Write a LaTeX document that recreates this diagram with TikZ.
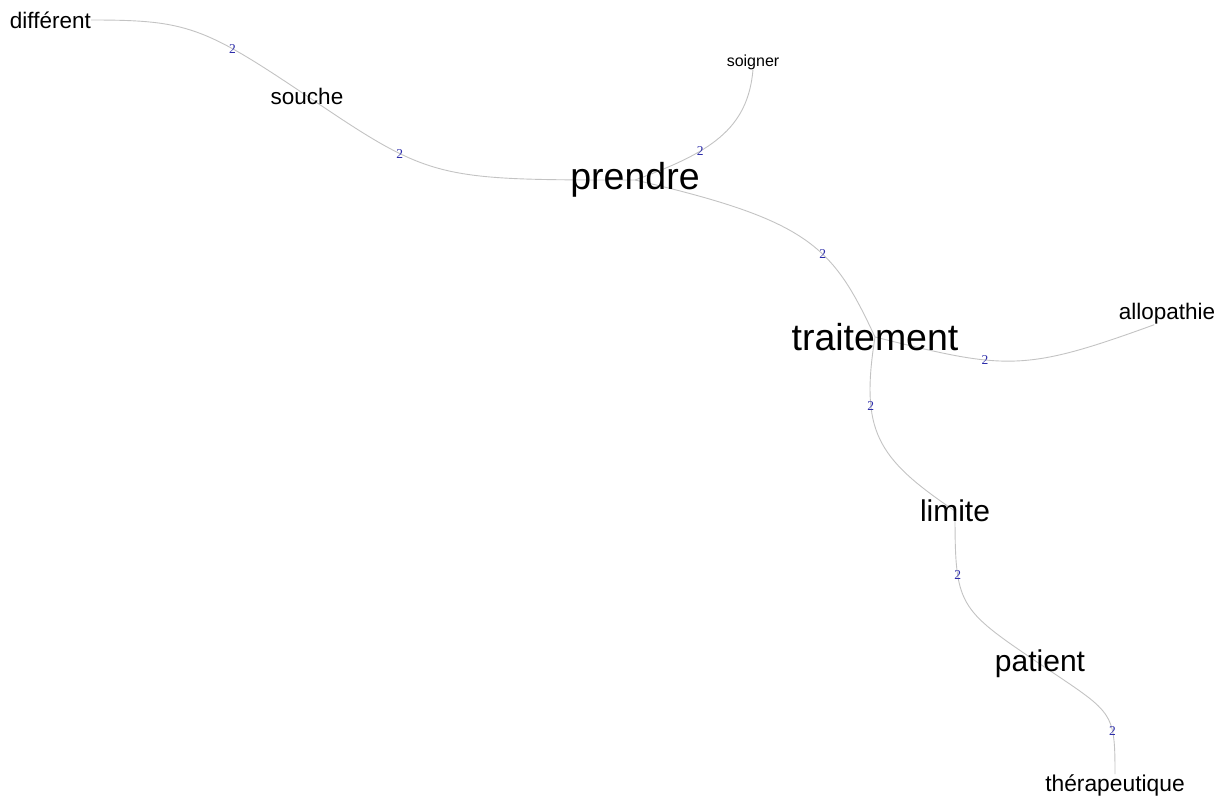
\documentclass[tikz,border=0pt]{standalone}
\usepackage{fontspec}
\setmainfont{Liberation Sans}
\newfontfamily\weightfont{Liberation Serif}
\usepackage{tikz}
\usetikzlibrary{positioning}
\usetikzlibrary{backgrounds}

\definecolor{linkgray}{RGB}{195,195,195}
\definecolor{weightblue}{RGB}{45,45,170}

\tikzset{
  word/.style={inner sep=0pt, text=black},
  bigword/.style={word, font=\fontsize{37.5}{37.5}\selectfont},
  midword/.style={word, font=\fontsize{30}{30}\selectfont},
  smallword/.style={word, font=\fontsize{22.5}{22.5}\selectfont},
  tinyword/.style={word, font=\fontsize{16}{16}\selectfont},
  link/.style={draw=linkgray, line width=0.9pt},
  weight/.style={inner sep=0pt, text=weightblue, font=\weightfont\fontsize{13.5}{13.5}\selectfont}
}

\begin{document}
\begin{tikzpicture}[x=1pt, y=-1pt]

\useasboundingbox (0,0) rectangle (1227,796);

\node[smallword, anchor=east] (different) at (91,20) {différent};
\node[smallword] (souche) at (307,96) {souche};
\node[bigword] (prendre) at (635,180) {prendre};
\node[tinyword] (soigner) at (753,62) {soigner};
\node[bigword] (traitement) at (875,337) {traitement};
\node[smallword] (allopathie) at (1167,314) {allopathie};
\node[midword] (limite) at (955,511) {limite};
\node[midword] (patient) at (1040,664) {patient};
\node[word, font=\fontsize{22.8}{22.8}\selectfont, anchor=base] (therap) at (1115,791) {thérapeutique};

\begin{pgfonlayer}{background}
\draw[link] (different.east) to[out=0, in=146, out distance=95, in distance=125]
   node[weight, pos=0.7] {2} (souche.center);
\draw[link] (souche.center) to[out=-34, in=180, out distance=150, in distance=200]
   node[weight, pos=0.32] {2} (prendre.center);
\draw[link] (prendre.center) to[out=20, in=-95, out distance=80, in distance=60]
   node[weight, pos=0.35] {2} (soigner.south);
\draw[link] (prendre.center) to[out=-13, in=115, out distance=180, in distance=100]
   node[weight, pos=0.6] {2} (traitement.center);
\draw[link] (traitement.center) to[out=-14, in=-160, out distance=135, in distance=140]
   node[weight, pos=0.37] {2} (allopathie.-140);
\draw[link] (traitement.center) to[out=-99, in=146, out distance=95, in distance=95]
   node[weight, pos=0.3] {2} (limite.center);
\draw[link] (limite.center) to[out=-90, in=146, out distance=95, in distance=100]
   node[weight, pos=0.3] {2} (patient.center);
\draw[link] (patient.center) to[out=-34, in=90, out distance=88, in distance=64]
   node[weight, pos=0.7] {2} (therap.north);
\end{pgfonlayer}

\end{tikzpicture}
\end{document}
